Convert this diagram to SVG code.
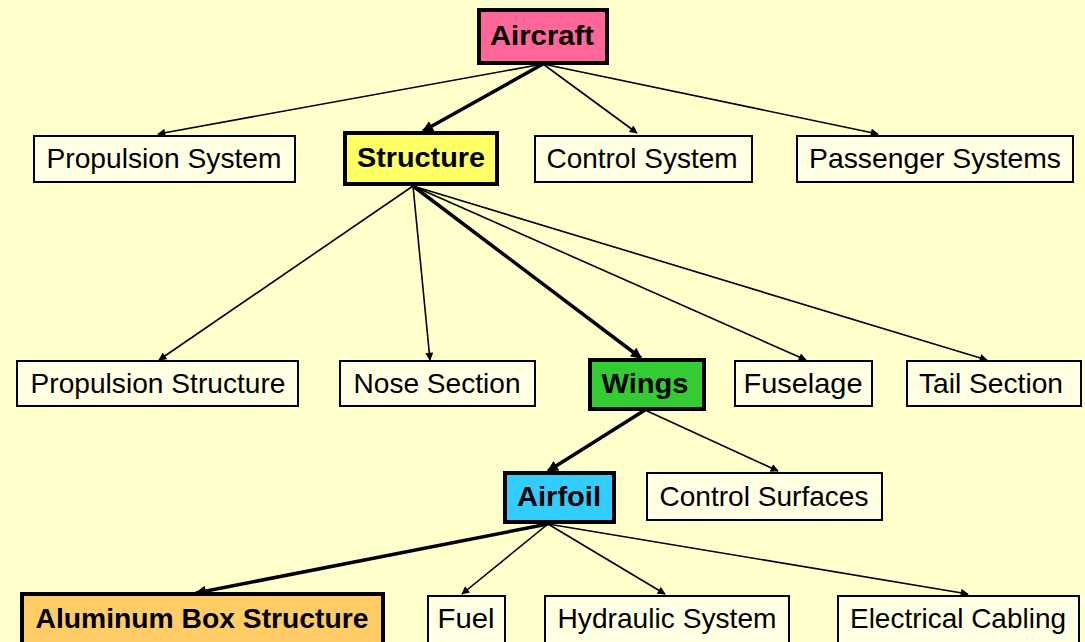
<svg xmlns="http://www.w3.org/2000/svg" width="1085" height="642" viewBox="0 0 1085 642">
<defs>
<style>
.bg{fill:#FFFFCC}
.box{fill:#FFFFE3;stroke:#000;stroke-width:2}
.hl{stroke:#000;stroke-width:4}
.t{font-family:"Liberation Sans",Arial,sans-serif;font-size:28px;fill:#000;text-anchor:middle}
.b{font-weight:bold}
.c{stroke:#000;stroke-width:1.6;fill:none;marker-end:url(#ah)}
.k{stroke:#000;stroke-width:3.5;fill:none;marker-end:url(#ahk)}
</style>
<marker id="ah" viewBox="0 0 10 10" refX="9" refY="5" markerWidth="9" markerHeight="8" markerUnits="userSpaceOnUse" orient="auto"><path d="M0,0 L10,5 L0,10 z" fill="#000"/></marker>
<marker id="ahk" viewBox="0 0 10 10" refX="9" refY="5" markerWidth="12" markerHeight="11" markerUnits="userSpaceOnUse" orient="auto"><path d="M0,0 L10,5 L0,10 z" fill="#000"/></marker>
</defs>
<rect class="bg" x="0" y="0" width="1085" height="642"/>
<g id="connectors">
<path class="c" d="M543,64 L158,134"/>
<path class="k" d="M543,64 L423,131"/>
<path class="c" d="M543,64 L637,133"/>
<path class="c" d="M543,64 L878,134"/>
<path class="c" d="M413,186 L159,360"/>
<path class="c" d="M413,186 L430,360"/>
<path class="k" d="M413,186 L641,358"/>
<path class="c" d="M413,186 L806,360"/>
<path class="c" d="M413,186 L987,360"/>
<path class="k" d="M645,410 L548,471"/>
<path class="c" d="M645,410 L778,471"/>
<path class="k" d="M548,524 L196,593"/>
<path class="c" d="M548,524 L462,594"/>
<path class="c" d="M548,524 L665,594"/>
<path class="c" d="M548,524 L968,594"/>
</g>
<g id="aircraft"><rect class="hl" x="479" y="10" width="128" height="53" fill="#FF6699"/><text class="t b" x="542" y="45" textLength="104" lengthAdjust="spacingAndGlyphs">Aircraft</text></g>
<g id="propulsion-system"><rect class="box" x="34" y="136" width="261" height="46"/><text class="t" x="164" y="168" textLength="235" lengthAdjust="spacingAndGlyphs">Propulsion System</text></g>
<g id="structure"><rect class="hl" x="345" y="133" width="152" height="51" fill="#FFFF66"/><text class="t b" x="421" y="167" textLength="128" lengthAdjust="spacingAndGlyphs">Structure</text></g>
<g id="control-system"><rect class="box" x="535" y="136" width="217" height="46"/><text class="t" x="642" y="168" textLength="191" lengthAdjust="spacingAndGlyphs">Control System</text></g>
<g id="passenger-systems"><rect class="box" x="797" y="136" width="276" height="46"/><text class="t" x="935" y="168" textLength="252" lengthAdjust="spacingAndGlyphs">Passenger Systems</text></g>
<g id="propulsion-structure"><rect class="box" x="17" y="361" width="281" height="45"/><text class="t" x="158" y="393" textLength="255" lengthAdjust="spacingAndGlyphs">Propulsion Structure</text></g>
<g id="nose-section"><rect class="box" x="340" y="361" width="195" height="45"/><text class="t" x="437" y="393" textLength="167" lengthAdjust="spacingAndGlyphs">Nose Section</text></g>
<g id="wings"><rect class="hl" x="590" y="360" width="114" height="49" fill="#33CC33"/><text class="t b" x="645" y="393" textLength="87" lengthAdjust="spacingAndGlyphs">Wings</text></g>
<g id="fuselage"><rect class="box" x="735" y="361" width="137" height="45"/><text class="t" x="803" y="393" textLength="119" lengthAdjust="spacingAndGlyphs">Fuselage</text></g>
<g id="tail-section"><rect class="box" x="907" y="361" width="174" height="45"/><text class="t" x="991" y="393" textLength="144" lengthAdjust="spacingAndGlyphs">Tail Section</text></g>
<g id="airfoil"><rect class="hl" x="505" y="473" width="109" height="49" fill="#33CCFF"/><text class="t b" x="559" y="506" textLength="84" lengthAdjust="spacingAndGlyphs">Airfoil</text></g>
<g id="control-surfaces"><rect class="box" x="647" y="473" width="235" height="47"/><text class="t" x="764" y="506" textLength="209" lengthAdjust="spacingAndGlyphs">Control Surfaces</text></g>
<g id="aluminum-box-structure"><rect class="hl" x="22" y="594" width="361" height="52" fill="#FFCC66"/><text class="t b" x="202" y="628" textLength="333" lengthAdjust="spacingAndGlyphs">Aluminum Box Structure</text></g>
<g id="fuel"><rect class="box" x="428" y="596" width="77" height="50"/><text class="t" x="466" y="628" textLength="57" lengthAdjust="spacingAndGlyphs">Fuel</text></g>
<g id="hydraulic-system"><rect class="box" x="545" y="596" width="244" height="50"/><text class="t" x="667" y="628" textLength="219" lengthAdjust="spacingAndGlyphs">Hydraulic System</text></g>
<g id="electrical-cabling"><rect class="box" x="838" y="596" width="241" height="50"/><text class="t" x="958" y="628" textLength="216" lengthAdjust="spacingAndGlyphs">Electrical Cabling</text></g>
</svg>
